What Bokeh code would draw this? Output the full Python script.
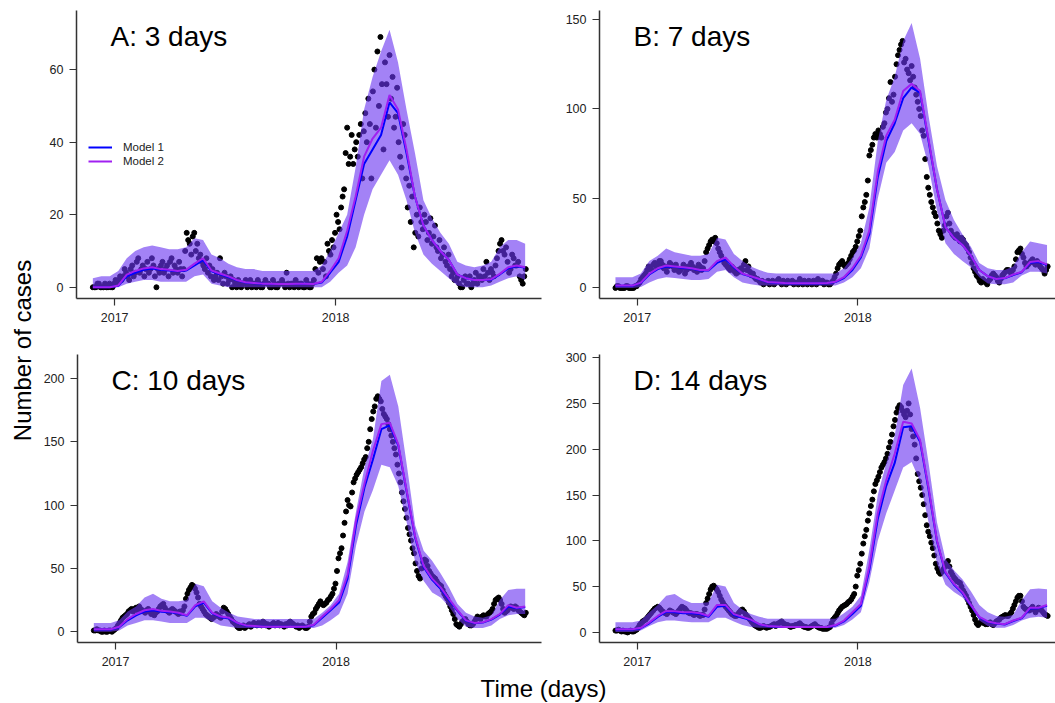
import math
from bokeh.plotting import figure
from bokeh.models import Range1d, FixedTicker, Label, Legend, LegendItem
from bokeh.layouts import row, column
from bokeh.embed import file_html
from bokeh.resources import INLINE
from bokeh.core.properties import value

FONT = "Liberation Sans"

# ---------------- data ----------------
# x values are days since 2017-01-01
OBS_START, OBS_STEP = -36, 2.5           # observation grid
MODEL_DAYS = list(range(-36, 679, 14))   # model output days (52)

X_TICKS = [0, 365]
X_TICK_LABELS = {0: "2017", 365: "2018"}

TITLES = ["A: 3 days", "B: 7 days", "C: 10 days", "D: 14 days"]
Y_TICKS_A = [0, 20, 40, 60]
Y_TICKS_B = [0, 50, 100, 150]
Y_TICKS_C = [0, 50, 100, 150, 200]
Y_TICKS_D = [0, 50, 100, 150, 200, 250, 300]
LEGEND_LABELS = ["Model 1", "Model 2"]

OBS_A = [0, 0, 0, 1, 1, 0, 0, 0, 1, 0,
         0, 1, 0, 0, 1, 2, 1, 2, 3, 2,
         3, 5, 4, 3, 2, 5, 6, 3, 4, 7,
         8, 4, 5, 6, 3, 5, 7, 4, 5, 8,
         6, 3, 0, 5, 4, 6, 7, 4, 5, 6,
         3, 7, 8, 4, 6, 5, 4, 7, 5, 3,
         5, 10, 15, 13, 12, 9, 14, 15, 10, 12,
         8, 9, 7, 6, 5, 8, 4, 6, 3, 5,
         2, 3, 4, 2, 8, 3, 1, 4, 3, 1,
         2, 3, 0, 2, 1, 0, 2, 1, 0, 1,
         1, 2, 0, 1, 2, 0, 1, 1, 0, 2,
         1, 0, 0, 1, 2, 1, 1, 0, 0, 2,
         1, 0, 0, 1, 1, 2, 1, 0, 4, 1,
         0, 1, 1, 0, 2, 1, 0, 1, 1, 0,
         0, 2, 1, 0, 0, 1, 2, 5, 8, 4,
         7, 8, 5, 7, 3, 12, 10, 9, 13, 11,
         15, 20, 18, 16, 22, 25, 27, 37, 44, 34,
         36, 42, 34, 38, 40, 36, 42, 45, 30, 43,
         48, 40, 52, 45, 30, 54, 60, 44, 65, 50,
         69, 56, 38, 62, 56, 47, 64, 52, 58, 44,
         47, 55, 40, 36, 33, 45, 42, 30, 22, 28,
         18, 25, 11, 15, 20, 14, 22, 18, 16, 20,
         18, 13, 15, 19, 12, 14, 17, 11, 10, 13,
         8, 9, 11, 7, 6, 9, 5, 3, 4, 2,
         2, 3, 1, 0, 0, 2, 3, 1, 1, 3,
         0, 1, 2, 4, 1, 3, 3, 2, 5, 3,
         7, 4, 2, 5, 4, 3, 6, 8, 10, 12,
         13, 10, 9, 11, 7, 4, 5, 9, 8, 6,
         6, 7, 3, 2, 1, 3, 5]

OBS_B = [0, 1, 1, 0, 0, 0, 0, 1, 1, 0,
         0, 0, 0, 1, 1, 2, 3, 5, 6, 7,
         8, 10, 12, 11, 10, 13, 14, 12, 13, 15,
         15, 13, 11, 12, 9, 12, 14, 13, 12, 10,
         13, 11, 9, 10, 11, 13, 8, 10, 12, 11,
         14, 12, 10, 11, 9, 13, 12, 10, 11, 15,
         20, 22, 24, 26, 27, 26, 28, 25, 22, 20,
         18, 16, 14, 13, 12, 11, 10, 12, 11, 9,
         8, 10, 9, 11, 10, 13, 15, 10, 12, 9,
         7, 8, 6, 5, 5, 4, 3, 4, 2, 3,
         3, 4, 2, 3, 4, 2, 3, 4, 5, 3,
         2, 4, 3, 2, 4, 3, 3, 4, 2, 3,
         3, 2, 5, 3, 2, 4, 3, 2, 4, 3,
         2, 4, 3, 2, 5, 3, 3, 4, 2, 3,
         3, 2, 2, 3, 4, 6, 8, 11, 13, 14,
         15, 13, 12, 13, 14, 16, 18, 20, 21, 23,
         26, 29, 32, 40, 45, 48, 52, 60, 74, 77,
         80, 84, 86, 84, 88, 86, 84, 90, 92, 98,
         100, 106, 115, 104, 108, 118, 125, 130, 133, 136,
         138, 126, 128, 122, 120, 116, 124, 118, 112, 108,
         104, 100, 96, 88, 85, 72, 62, 56, 52, 48,
         45, 42, 40, 36, 32, 30, 28, 32, 35, 40,
         42, 36, 32, 30, 29, 28, 30, 28, 26, 28,
         27, 25, 24, 22, 20, 17, 14, 11, 9, 7,
         6, 4, 3, 5, 4, 3, 2, 4, 5, 7,
         8, 7, 6, 4, 3, 5, 7, 8, 9, 10,
         10, 9, 8, 10, 12, 16, 20, 21, 22, 19,
         17, 14, 12, 13, 14, 15, 16, 14, 13, 15,
         14, 12, 11, 10, 8, 10, 12]

OBS_C = [1, 1, 2, 1, 1, 0, 0, 1, 0, 0,
         1, 1, 0, 1, 2, 3, 5, 7, 9, 11,
         12, 13, 14, 16, 17, 18, 16, 18, 19, 17,
         20, 18, 17, 16, 15, 17, 18, 16, 14, 15,
         13, 15, 16, 18, 20, 21, 22, 19, 17, 16,
         15, 17, 18, 17, 16, 15, 14, 16, 15, 17,
         20, 26, 30, 33, 35, 37, 36, 34, 31, 27,
         22, 20, 18, 16, 14, 13, 12, 11, 10, 11,
         12, 14, 13, 12, 11, 16, 19, 18, 16, 14,
         12, 10, 8, 7, 6, 4, 3, 3, 4, 5,
         3, 4, 5, 6, 4, 5, 7, 6, 5, 7,
         6, 5, 8, 7, 5, 6, 4, 5, 6, 7,
         5, 6, 7, 5, 6, 5, 4, 6, 5, 7,
         8, 7, 6, 5, 4, 5, 3, 4, 5, 4,
         3, 3, 4, 8, 12, 14, 15, 18, 20, 22,
         24, 22, 21, 22, 23, 25, 26, 28, 30, 34,
         38, 48, 58, 62, 66, 76, 86, 95, 104, 100,
         99, 110, 118, 121, 124, 126, 128, 130, 133, 136,
         138, 145, 150, 160, 168, 174, 178, 184, 186, 184,
         182, 176, 172, 170, 168, 164, 160, 155, 150, 145,
         140, 132, 125, 118, 110, 103, 97, 90, 82, 77,
         72, 66, 62, 54, 48, 44, 42, 50, 55, 57,
         56, 52, 48, 46, 44, 43, 42, 40, 38, 37,
         36, 33, 30, 28, 26, 23, 20, 17, 14, 10,
         6, 5, 4, 6, 8, 9, 10, 8, 6, 5,
         5, 6, 8, 10, 12, 11, 10, 12, 13, 12,
         12, 14, 15, 16, 18, 22, 25, 26, 27, 25,
         22, 18, 15, 16, 17, 19, 20, 19, 18, 20,
         19, 17, 16, 15, 14, 13, 15]

OBS_D = [2, 2, 3, 2, 1, 2, 1, 1, 0, 1,
         2, 1, 1, 2, 3, 5, 8, 10, 12, 13,
         14, 16, 18, 20, 22, 24, 26, 27, 28, 27,
         25, 23, 22, 21, 20, 22, 24, 23, 22, 21,
         20, 22, 24, 26, 28, 27, 26, 24, 22, 21,
         21, 20, 19, 20, 20, 19, 18, 19, 19, 25,
         32, 37, 42, 47, 50, 51, 49, 47, 44, 40,
         36, 33, 30, 28, 26, 24, 22, 20, 19, 18,
         18, 20, 22, 24, 25, 23, 20, 18, 16, 14,
         12, 10, 8, 7, 6, 5, 5, 6, 7, 6,
         5, 6, 6, 7, 8, 9, 7, 9, 10, 11,
         12, 10, 9, 8, 8, 7, 6, 7, 7, 8,
         8, 9, 10, 8, 7, 6, 6, 5, 5, 6,
         7, 8, 9, 7, 6, 5, 5, 4, 4, 4,
         4, 5, 6, 10, 14, 16, 18, 21, 24, 26,
         28, 29, 30, 31, 33, 34, 36, 39, 42, 50,
         62, 68, 75, 86, 97, 105, 112, 122, 130, 138,
         145, 154, 162, 166, 170, 175, 180, 183, 186, 190,
         195, 202, 208, 216, 225, 232, 240, 245, 248, 246,
         242, 238, 235, 242, 250, 238, 222, 214, 205, 190,
         173, 165, 158, 150, 140, 128, 117, 110, 105, 98,
         92, 84, 75, 70, 66, 64, 66, 69, 72, 76,
         78, 72, 66, 63, 60, 58, 56, 55, 54, 50,
         46, 43, 40, 36, 32, 28, 24, 19, 14, 10,
         8, 10, 12, 11, 10, 9, 9, 10, 11, 9,
         8, 10, 12, 13, 14, 16, 17, 18, 19, 18,
         18, 20, 22, 26, 30, 34, 38, 40, 40, 34,
         28, 26, 25, 24, 24, 26, 28, 25, 22, 25,
         27, 26, 24, 22, 20, 19, 18]

# Model 1 / Model 2 medians and prediction interval (lower / upper)
A_M1 = [0, 0, 0, 0.4, 3, 4, 4.8, 5.2, 4.8, 4.6, 4.4, 4.6, 6,
        7.5, 4.4, 3.6, 2.8, 1.9, 1.3, 1.1, 1, 0.9, 0.9, 0.9, 0.9, 1,
        0.9, 1.3, 4, 7, 14, 24, 34, 38, 42, 51, 48, 37, 25,
        17, 13, 10, 7.5, 3.5, 2.5, 2, 2, 2.1, 3.5, 5.2, 5.8, 5.4]
A_M2 = [0, 0, 0, 0.5, 3.5, 4.5, 5.2, 5.5, 5, 4.8, 4.5, 4.8, 6.5,
        8, 4.6, 3.8, 3, 2, 1.4, 1.2, 1, 1, 0.9, 0.9, 1, 1,
        0.9, 1.5, 4.5, 8, 15.5, 25, 36, 41, 44, 53, 49, 38, 25,
        17, 13, 10, 7.5, 3.5, 2.5, 2, 2, 2.2, 3.7, 5.5, 6, 5.5]
A_LO = [0, 0, 0, 0, 1, 1.5, 2, 2, 1.5, 1.5, 1.5, 1.5, 3,
        3.5, 1, 0.5, 0, 0, 0, 0, 0, 0, 0, 0, 0, 0,
        0, 0, 1.5, 4, 6, 11, 20, 27, 31, 35, 31, 24, 15,
        9, 6.5, 4.5, 2.5, 0.5, 0, 0, 0, 0.5, 1.5, 2.5, 3, 2]
A_HI = [2.5, 3, 3, 4.5, 8, 10, 11, 11.5, 11, 10.5, 10.5, 11, 13.5,
        13, 9, 8, 6.5, 5.5, 5, 5, 4.5, 4.5, 4.5, 4.5, 4.5, 4.5,
        4.5, 6, 10, 15, 20, 33, 49, 58, 65, 71, 62, 49, 37,
        24, 19, 15, 12, 7, 6, 5.5, 6, 7, 11, 13, 13, 12]

B_M1 = [1.2, 1.2, 1.2, 2.8, 7.5, 10.5, 12, 11.8, 11.2, 10.8, 9.8, 9.8, 14,
        16, 11.5, 7.8, 6.3, 4.8, 3.2, 2.9, 2.6, 2.5, 2.5, 2.5, 2.5, 2.6,
        3.3, 5.5, 10, 17, 30, 62, 82, 92, 106, 112, 109, 82, 55,
        34, 28, 24, 18, 10, 6.5, 5, 5.4, 7.2, 8.8, 14, 14.5, 12.8]
B_M2 = [1.3, 1.3, 1.3, 3, 8, 11, 12.5, 12, 11.5, 11, 10, 10, 15,
        17, 12, 8, 6.5, 5, 3.3, 3, 2.7, 2.6, 2.6, 2.6, 2.6, 2.7,
        3.5, 6, 11, 18, 32, 65, 85, 94, 110, 114, 110, 83, 55,
        34, 28, 24, 18, 10, 6.5, 5, 5.5, 7.5, 9, 14.5, 15, 13]
B_LO = [0, 0, 0, 0.5, 3, 5, 6, 5.5, 5, 4.5, 4.5, 5, 9,
        10, 6, 3, 2, 1.3, 1.3, 1.3, 1.3, 1.3, 1.3, 1.3, 1.3, 1.3,
        1.3, 3, 6, 11, 22, 50, 70, 76, 88, 92, 86, 68, 43,
        25, 19, 15, 11.5, 6, 2.5, 2, 2, 3, 7, 9, 9, 8]
B_HI = [6, 6, 6, 8, 15, 18, 22, 20, 19, 18, 18, 19, 28,
        27, 19, 15, 12, 10, 8.5, 8, 8, 8, 8, 8, 8, 8,
        8, 11, 17, 25, 45, 82, 105, 118, 138, 148, 128, 96, 68,
        49, 38, 30, 23, 14, 11, 10, 10, 12, 20, 26, 25, 24]

C_M1 = [1.8, 1.8, 1.8, 3.6, 9, 13, 16, 17, 15.8, 15.4, 14.5, 12.5, 20,
        23, 14.5, 11.5, 10.5, 6.8, 4.8, 4.3, 3.9, 3.9, 3.9, 3.9, 3.9, 3.9,
        5.2, 11, 17, 23, 42, 84, 114, 136, 160, 163, 147, 110, 74,
        51, 41, 34, 25, 16.5, 8.7, 6.8, 7.2, 9.6, 13.5, 20, 18.5, 19.5]
C_M2 = [2, 2, 2, 4, 10, 14, 17, 18, 16.5, 16, 15, 13, 21,
        24, 15, 12, 11, 7, 5, 4.5, 4, 4, 4, 4, 4, 4,
        5.5, 12, 18, 25, 45, 88, 117, 143, 164, 165, 148, 111, 75,
        52, 42, 35, 26, 17, 9, 7, 7.5, 10, 14, 21, 19, 20]
C_LO = [0, 0, 0, 1, 5, 7, 9, 9, 8, 7, 7, 7, 11,
        11, 8, 5, 4, 3, 3, 3, 3, 3, 3, 3, 3, 3,
        3, 5, 9, 14, 30, 68, 95, 112, 132, 130, 115, 86, 55,
        40, 31, 27, 20, 10, 4, 3, 3, 5, 10, 13, 14, 14]
C_HI = [7, 7, 7, 9, 16, 20, 27, 30, 26, 24, 24, 25, 38,
        36, 24, 19, 15, 12, 11, 10, 10, 10, 10, 10, 10, 10,
        10, 15, 21, 30, 55, 95, 130, 152, 198, 203, 178, 132, 84,
        64, 56, 46, 35, 22, 15, 12, 11, 13, 25, 33, 34, 34]

D_M1 = [3.3, 3.3, 3.3, 4.6, 10, 17, 22.5, 22, 21, 21, 20, 17, 28,
        29, 19, 16, 13.5, 8.7, 6.8, 6.3, 5.8, 5.8, 5.8, 5.8, 5.8, 5.8,
        7.5, 12, 20, 29, 68, 124, 160, 185, 224, 225, 208, 156, 99,
        65, 52, 43, 29.5, 16.5, 11.5, 9.7, 8.7, 12.5, 15.5, 26, 26.5, 29]
D_M2 = [3.5, 3.5, 3.5, 5, 11, 18, 23.5, 23, 22, 22, 21, 18, 30,
        30, 20, 17, 14, 9, 7, 6.5, 6, 6, 6, 6, 6, 6,
        8, 13, 22, 31, 72, 130, 166, 195, 230, 228, 210, 158, 100,
        66, 53, 44, 30, 17, 12, 10, 9, 13, 16, 27, 27, 30]
D_LO = [0.5, 0.5, 0.5, 2, 7, 11, 13, 13, 12, 11, 11, 11, 16,
        16, 12, 8, 6, 5, 5, 5, 5, 5, 5, 5, 5, 5,
        5, 8, 14, 22, 55, 100, 130, 155, 180, 186, 165, 120, 75,
        52, 44, 38, 28, 13, 7, 5, 5, 8, 13, 16, 17, 16]
D_HI = [11, 11, 11, 13, 22, 30, 40, 42, 36, 32, 32, 33, 52,
        50, 32, 25, 20, 17, 15, 15, 15, 15, 15, 15, 15, 15,
        15, 21, 28, 40, 90, 150, 185, 215, 270, 288, 245, 185, 120,
        80, 68, 58, 45, 30, 22, 18, 17, 19, 35, 47, 48, 47]

# ---------------- styling ----------------
BAND_COLOR = "#6A35F0"
M1_COLOR = "#0000FF"
M2_COLOR = "#A020F0"
AXIS_COLOR = "#333333"
TICK_TEXT = "#222222"


def make_panel(title, obs, m1, m2, lo, hi, yticks, xr, yr, width, height,
               borders, legend=False):
    obs_days = [OBS_START + OBS_STEP * i for i in range(len(obs))]
    p = figure(width=width, height=height, x_range=Range1d(*xr),
               y_range=Range1d(*yr), output_backend="svg",
               toolbar_location=None, tools="",
               min_border_left=borders[0], min_border_right=borders[1],
               min_border_top=borders[2], min_border_bottom=borders[3])
    p.outline_line_color = None
    p.grid.visible = False
    p.scatter(obs_days, obs, size=5, color="black")
    p.varea(x=MODEL_DAYS, y1=lo, y2=hi, fill_color=BAND_COLOR,
            fill_alpha=0.62)
    r1 = p.line(MODEL_DAYS, m1, line_color=M1_COLOR, line_width=2)
    r2 = p.line(MODEL_DAYS, m2, line_color=M2_COLOR, line_width=2)

    for ax in (p.xaxis[0], p.yaxis[0]):
        ax.axis_line_color = AXIS_COLOR
        ax.axis_line_width = 1.5
        ax.major_tick_line_color = AXIS_COLOR
        ax.major_tick_line_width = 1.2
        ax.major_tick_out = 7
        ax.major_tick_in = 0
        ax.minor_tick_line_color = None
        ax.major_label_text_font = FONT
        ax.major_label_text_font_size = "12.5px"
        ax.major_label_text_color = TICK_TEXT
    p.xaxis[0].ticker = FixedTicker(ticks=X_TICKS)
    p.xaxis[0].major_label_overrides = X_TICK_LABELS
    p.xaxis[0].major_label_standoff = 7
    p.yaxis[0].ticker = FixedTicker(ticks=yticks)
    p.yaxis[0].major_label_standoff = 6

    frame_h = height - borders[2] - borders[3]
    p.add_layout(Label(x=34, y=frame_h - 26, x_units="screen",
                       y_units="screen", text=title, text_font=FONT,
                       text_font_size="28px", text_color="black",
                       text_baseline="alphabetic"))
    if legend:
        leg = Legend(items=[LegendItem(label=LEGEND_LABELS[0], renderers=[r1]),
                            LegendItem(label=LEGEND_LABELS[1], renderers=[r2])],
                     location=(12, 130), orientation="vertical",
                     border_line_color=None, background_fill_alpha=0,
                     padding=0, margin=0, spacing=0,
                     glyph_width=24, glyph_height=14, label_height=14,
                     label_standoff=11, label_text_font=FONT,
                     label_text_font_size="11.5px",
                     label_text_color="#222222")
        p.add_layout(leg)
    return p


XR_LEFT = (-63, 705)
XR_RIGHT = (-62.4, 692)

pA = make_panel(TITLES[0], OBS_A, A_M1, A_M2, A_LO, A_HI, Y_TICKS_A,
                XR_LEFT, (-3.1, 76.3), 517, 342, (36, 16, 10, 44), legend=True)
pB = make_panel(TITLES[1], OBS_B, B_M1, B_M2, B_LO, B_HI, Y_TICKS_B,
                XR_RIGHT, (-5.9, 155), 498, 342, (42, 0, 10, 44))
pC = make_panel(TITLES[2], OBS_C, C_M1, C_M2, C_LO, C_HI, Y_TICKS_C,
                XR_LEFT, (-8.5, 219), 517, 332, (36, 16, 12, 32))
pD = make_panel(TITLES[3], OBS_D, D_M1, D_M2, D_LO, D_HI, Y_TICKS_D,
                XR_RIGHT, (-11, 303.4), 498, 332, (42, 0, 12, 32))

# shared axis titles
fy = figure(width=40, height=674, x_range=Range1d(0, 40),
            y_range=Range1d(0, 674), output_backend="svg",
            toolbar_location=None, tools="", min_border=0,
            x_axis_type=None, y_axis_type=None)
fy.outline_line_color = None
fy.text(x=[22], y=[674 - 350], text=["Number of cases"], angle=math.pi / 2,
        text_align="center", text_baseline="middle",
        text_font=value(FONT), text_font_size="24px", text_color="black")

fx = figure(width=1055, height=29, x_range=Range1d(0, 1055),
            y_range=Range1d(0, 29), output_backend="svg",
            toolbar_location=None, tools="", min_border=0,
            x_axis_type=None, y_axis_type=None)
fx.outline_line_color = None
fx.text(x=[543], y=[15], text=["Time (days)"], text_align="center",
        text_baseline="middle", text_font=value(FONT),
        text_font_size="24px", text_color="black")

layout = column(row(fy, column(row(pA, pB), row(pC, pD))), fx)

open("out.html", "w").write(file_html(layout, INLINE))
